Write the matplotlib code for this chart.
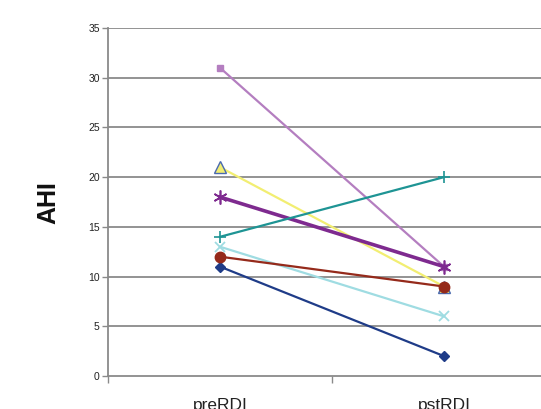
import matplotlib
matplotlib.use("Agg")
import matplotlib.pyplot as plt

categories = ["preRDI", "pstRDI"]
s_diamond = [11, 2]
s_square = [31, 11]
s_triangle = [21, 9]
s_x = [13, 6]
s_star = [18, 11]
s_circle = [12, 9]
s_plus = [14, 20]
y_ticks = [0, 5, 10, 15, 20, 25, 30, 35]

plt.rcParams['font.family'] = ['Liberation Sans', 'DejaVu Sans']

fig = plt.figure(figsize=(5.41, 4.09), dpi=100)
ax = fig.add_axes([108/541, 33/409, 448/541, 348/409])

xs = [0, 1]
grid_c = "#8a8a8a"
for y in y_ticks[1:]:
    ax.axhline(y, color=grid_c, lw=1.3, zorder=1)

ax.plot(xs, s_diamond, color="#1F3C88", lw=1.6, marker="D", ms=5.5, zorder=3)
ax.plot(xs, s_square, color="#B47EC0", lw=1.6, marker="s", ms=4.5, zorder=3)
ax.plot(xs, s_triangle, color="#F2EE72", lw=1.6, marker="^", ms=8, mfc="#F2EE72",
        mec="#4A6AB0", mew=1.0, zorder=3)
ax.plot(xs, s_x, color="#9FDCE2", lw=1.6, marker="x", ms=7, mew=1.3, zorder=3)
ax.plot(xs, s_star, color="#7E2A8F", lw=2.6, marker=(6, 2, 0), ms=10, mew=1.2, zorder=3)
ax.plot(xs, s_circle, color="#952A1B", lw=1.6, marker="o", ms=7.5, zorder=3)
ax.plot(xs, s_plus, color="#1E9494", lw=1.6, marker="+", ms=9, mew=1.2, zorder=3)

ax.set_xlim(-0.5, 1.5)
ax.set_ylim(0, 35)
ax.set_yticks(y_ticks)
ax.set_xticks([-0.5, 0.5, 1.5])
ax.set_xticklabels([])
ax.set_xticks(xs, minor=True)
ax.set_xticklabels(categories, minor=True, fontsize=12.5, color="#222222")
ax.tick_params(axis='x', which='minor', length=0, pad=16)
ax.tick_params(axis='x', which='major', length=5, width=1, color=grid_c, direction='out')
ax.tick_params(axis='y', length=4, width=1, color=grid_c, direction='out', labelsize=7.5,
               labelcolor="#222222", pad=2)

for s in ['top', 'right']:
    ax.spines[s].set_visible(False)
for s in ['left', 'bottom']:
    ax.spines[s].set_color(grid_c)
    ax.spines[s].set_linewidth(1.3)

fig.text(48/541, 1 - 203/409, "AHI", rotation=90, fontsize=18, fontweight='bold',
         ha='center', va='center', color="#111111")

fig.savefig("out.png", dpi=100)
